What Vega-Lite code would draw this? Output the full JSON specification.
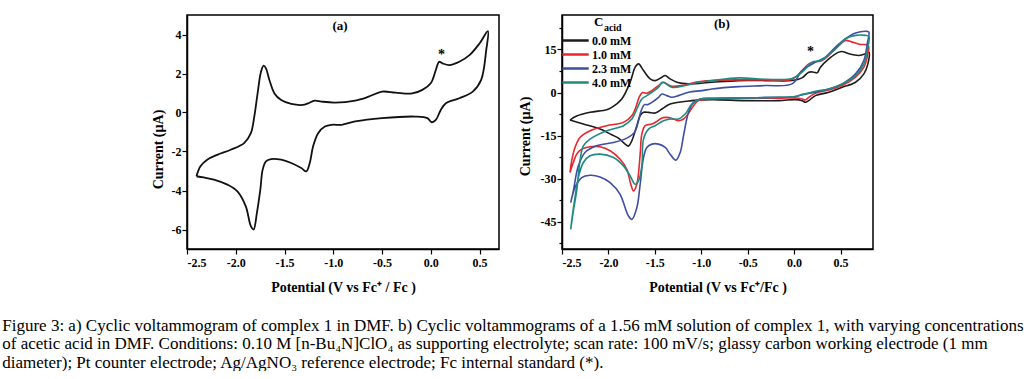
{
  "$schema": "https://vega.github.io/schema/vega-lite/v6.json",
  "background": "white",
  "padding": {"left": 2, "top": 14, "right": 0, "bottom": 0},
  "config": {
    "view": {"stroke": "#000", "strokeWidth": 1.5},
    "font": "Liberation Serif",
    "axis": {"labelFont": "Liberation Serif", "labelFontWeight": "bold", "labelFontSize": 12, "labelColor": "#000", "titleFont": "Liberation Serif", "titleFontWeight": "bold", "titleFontSize": 14, "titleColor": "#000", "grid": false, "domainColor": "#000", "domainWidth": 1.5, "tickColor": "#000", "tickWidth": 1.2, "labelOverlap": false}
  },
  "title": {
    "text": [
      "Figure 3: a) Cyclic voltammogram of complex 1 in DMF. b) Cyclic voltammograms of a 1.56 mM solution of complex 1, with varying concentrations",
      "of acetic acid in DMF. Conditions: 0.10 M [n-Bu₄N]ClO₄ as supporting electrolyte; scan rate: 100 mV/s; glassy carbon working electrode (1 mm",
      "diameter); Pt counter electrode; Ag/AgNO₃ reference electrode; Fc internal standard (*)."
    ],
    "orient": "bottom", "anchor": "start", "frame": "bounds", "font": "Liberation Serif", "fontSize": 17, "fontWeight": "normal", "color": "#000", "lineHeight": 18.5, "offset": 23, "dx": -148
  },
  "datasets": {
    "a": [
      {"k":0,"V":-2.403,"I":-3.27},{"k":1,"V":-2.362,"I":-2.76},{"k":2,"V":-2.293,"I":-2.42},{"k":3,"V":-2.19,"I":-2.17},{"k":4,"V":-2.052,"I":-1.91},{"k":5,"V":-1.914,"I":-1.57},{"k":6,"V":-1.845,"I":-1.06},{"k":7,"V":-1.81,"I":-0.21},{"k":8,"V":-1.776,"I":0.98},{"k":9,"V":-1.741,"I":2.09},{"k":10,"V":-1.714,"I":2.4},{"k":11,"V":-1.69,"I":2.26},{"k":12,"V":-1.655,"I":1.67},{"k":13,"V":-1.603,"I":0.98},{"k":14,"V":-1.534,"I":0.64},{"k":15,"V":-1.431,"I":0.44},{"k":16,"V":-1.31,"I":0.39},{"k":17,"V":-1.259,"I":0.47},{"k":18,"V":-1.19,"I":0.61},{"k":19,"V":-1.121,"I":0.56},{"k":20,"V":-0.983,"I":0.51},{"k":21,"V":-0.776,"I":0.61},{"k":22,"V":-0.638,"I":0.81},{"k":23,"V":-0.5,"I":1.07},{"k":24,"V":-0.362,"I":1.02},{"k":25,"V":-0.19,"I":0.98},{"k":26,"V":-0.086,"I":1.16},{"k":27,"V":0.0,"I":1.5},{"k":28,"V":0.052,"I":2.18},{"k":29,"V":0.086,"I":2.6},{"k":30,"V":0.121,"I":2.52},{"k":31,"V":0.19,"I":2.43},{"k":32,"V":0.293,"I":2.6},{"k":33,"V":0.397,"I":2.94},{"k":34,"V":0.5,"I":3.54},{"k":35,"V":0.586,"I":4.17},
      {"k":36,"V":0.569,"I":3.2},{"k":37,"V":0.517,"I":1.67},{"k":38,"V":0.431,"I":1.07},{"k":39,"V":0.293,"I":0.73},{"k":40,"V":0.155,"I":0.47},{"k":41,"V":0.103,"I":0.13},{"k":42,"V":0.052,"I":-0.38},{"k":43,"V":0.01,"I":-0.5},{"k":44,"V":-0.034,"I":-0.29},{"k":45,"V":-0.155,"I":-0.21},{"k":46,"V":-0.5,"I":-0.29},{"k":47,"V":-0.776,"I":-0.46},{"k":48,"V":-0.914,"I":-0.63},{"k":49,"V":-1.017,"I":-0.63},{"k":50,"V":-1.086,"I":-0.72},{"k":51,"V":-1.155,"I":-1.06},{"k":52,"V":-1.207,"I":-1.74},{"k":53,"V":-1.241,"I":-2.59},{"k":54,"V":-1.276,"I":-3.02},{"k":55,"V":-1.328,"I":-2.85},{"k":56,"V":-1.431,"I":-2.59},{"k":57,"V":-1.534,"I":-2.42},{"k":58,"V":-1.638,"I":-2.39},{"k":59,"V":-1.69,"I":-2.51},{"k":60,"V":-1.724,"I":-2.93},{"k":61,"V":-1.748,"I":-3.96},{"k":62,"V":-1.783,"I":-5.15},{"k":63,"V":-1.817,"I":-6.0},{"k":64,"V":-1.845,"I":-5.83},{"k":65,"V":-1.897,"I":-4.81},{"k":66,"V":-1.983,"I":-4.04},{"k":67,"V":-2.086,"I":-3.7},{"k":68,"V":-2.224,"I":-3.44},{"k":69,"V":-2.328,"I":-3.33},{"k":70,"V":-2.403,"I":-3.27}
    ],
    "b": [
      {"c":"0.0 mM","k":0,"V":-2.414,"I":-9.58},{"c":"0.0 mM","k":1,"V":-2.342,"I":-8.19},{"c":"0.0 mM","k":2,"V":-2.198,"I":-6.9},{"c":"0.0 mM","k":3,"V":-2.018,"I":-5.97},{"c":"0.0 mM","k":4,"V":-1.964,"I":-5.16},{"c":"0.0 mM","k":5,"V":-1.856,"I":-2.24},{"c":"0.0 mM","k":6,"V":-1.766,"I":3.58},{"c":"0.0 mM","k":7,"V":-1.712,"I":8.82},{"c":"0.0 mM","k":8,"V":-1.676,"I":9.99},{"c":"0.0 mM","k":9,"V":-1.622,"I":7.66},{"c":"0.0 mM","k":10,"V":-1.55,"I":4.75},{"c":"0.0 mM","k":11,"V":-1.496,"I":4.16},{"c":"0.0 mM","k":12,"V":-1.424,"I":5.33},{"c":"0.0 mM","k":13,"V":-1.388,"I":5.91},{"c":"0.0 mM","k":14,"V":-1.335,"I":4.75},{"c":"0.0 mM","k":15,"V":-1.263,"I":3.58},{"c":"0.0 mM","k":16,"V":-1.137,"I":3.0},{"c":"0.0 mM","k":17,"V":-0.885,"I":3.58},{"c":"0.0 mM","k":18,"V":-0.597,"I":4.16},{"c":"0.0 mM","k":19,"V":-0.309,"I":4.16},{"c":"0.0 mM","k":20,"V":-0.022,"I":4.16},{"c":"0.0 mM","k":21,"V":0.086,"I":5.1},{"c":"0.0 mM","k":22,"V":0.158,"I":7.08},{"c":"0.0 mM","k":23,"V":0.212,"I":7.08},{"c":"0.0 mM","k":24,"V":0.248,"I":6.84},{"c":"0.0 mM","k":25,"V":0.284,"I":8.82},{"c":"0.0 mM","k":26,"V":0.374,"I":11.74},{"c":"0.0 mM","k":27,"V":0.482,"I":14.07},{"c":"0.0 mM","k":28,"V":0.518,"I":14.3},{"c":"0.0 mM","k":29,"V":0.59,"I":13.49},{"c":"0.0 mM","k":30,"V":0.698,"I":12.9},{"c":"0.0 mM","k":31,"V":0.77,"I":13.49},{"c":"0.0 mM","k":32,"V":0.806,"I":14.07},
      {"c":"0.0 mM","k":33,"V":0.795,"I":9.99},{"c":"0.0 mM","k":34,"V":0.752,"I":6.49},{"c":"0.0 mM","k":35,"V":0.662,"I":3.58},{"c":"0.0 mM","k":36,"V":0.518,"I":1.83},{"c":"0.0 mM","k":37,"V":0.374,"I":0.09},{"c":"0.0 mM","k":38,"V":0.23,"I":-1.08},{"c":"0.0 mM","k":39,"V":0.158,"I":-2.83},{"c":"0.0 mM","k":40,"V":0.122,"I":-3.41},{"c":"0.0 mM","k":41,"V":0.086,"I":-2.83},{"c":"0.0 mM","k":42,"V":0.014,"I":-2.48},{"c":"0.0 mM","k":43,"V":-0.165,"I":-2.83},{"c":"0.0 mM","k":44,"V":-0.525,"I":-2.83},{"c":"0.0 mM","k":45,"V":-0.885,"I":-2.48},{"c":"0.0 mM","k":46,"V":-1.101,"I":-2.83},{"c":"0.0 mM","k":47,"V":-1.335,"I":-3.99},{"c":"0.0 mM","k":48,"V":-1.424,"I":-5.74},{"c":"0.0 mM","k":49,"V":-1.496,"I":-7.14},{"c":"0.0 mM","k":50,"V":-1.568,"I":-6.9},{"c":"0.0 mM","k":51,"V":-1.622,"I":-6.9},{"c":"0.0 mM","k":52,"V":-1.658,"I":-8.07},{"c":"0.0 mM","k":53,"V":-1.694,"I":-11.56},{"c":"0.0 mM","k":54,"V":-1.748,"I":-16.81},{"c":"0.0 mM","k":55,"V":-1.784,"I":-18.67},{"c":"0.0 mM","k":56,"V":-1.82,"I":-17.97},{"c":"0.0 mM","k":57,"V":-1.892,"I":-15.87},{"c":"0.0 mM","k":58,"V":-1.964,"I":-14.71},{"c":"0.0 mM","k":59,"V":-2.09,"I":-12.73},{"c":"0.0 mM","k":60,"V":-2.27,"I":-10.98},{"c":"0.0 mM","k":61,"V":-2.414,"I":-9.58},

      {"c":"1.0 mM","k":0,"V":-2.414,"I":-27.88},{"c":"1.0 mM","k":1,"V":-2.396,"I":-23.8},{"c":"1.0 mM","k":2,"V":-2.36,"I":-19.14},{"c":"1.0 mM","k":3,"V":-2.306,"I":-15.64},{"c":"1.0 mM","k":4,"V":-2.198,"I":-13.31},{"c":"1.0 mM","k":5,"V":-2.018,"I":-11.56},{"c":"1.0 mM","k":6,"V":-1.838,"I":-10.4},{"c":"1.0 mM","k":7,"V":-1.748,"I":-8.07},{"c":"1.0 mM","k":8,"V":-1.705,"I":-5.16},{"c":"1.0 mM","k":9,"V":-1.669,"I":-1.66},{"c":"1.0 mM","k":10,"V":-1.633,"I":-0.03},{"c":"1.0 mM","k":11,"V":-1.586,"I":-0.26},{"c":"1.0 mM","k":12,"V":-1.532,"I":0.67},{"c":"1.0 mM","k":13,"V":-1.46,"I":2.42},{"c":"1.0 mM","k":14,"V":-1.406,"I":3.58},{"c":"1.0 mM","k":15,"V":-1.371,"I":3.0},{"c":"1.0 mM","k":16,"V":-1.317,"I":2.18},{"c":"1.0 mM","k":17,"V":-1.209,"I":2.42},{"c":"1.0 mM","k":18,"V":-1.065,"I":3.58},{"c":"1.0 mM","k":19,"V":-0.885,"I":4.16},{"c":"1.0 mM","k":20,"V":-0.597,"I":4.4},{"c":"1.0 mM","k":21,"V":-0.309,"I":4.4},{"c":"1.0 mM","k":22,"V":-0.022,"I":4.63},{"c":"1.0 mM","k":23,"V":0.086,"I":7.66},{"c":"1.0 mM","k":24,"V":0.158,"I":9.99},{"c":"1.0 mM","k":25,"V":0.212,"I":10.57},{"c":"1.0 mM","k":26,"V":0.302,"I":11.16},{"c":"1.0 mM","k":27,"V":0.446,"I":15.23},{"c":"1.0 mM","k":28,"V":0.554,"I":18.15},{"c":"1.0 mM","k":29,"V":0.626,"I":17.56},{"c":"1.0 mM","k":30,"V":0.716,"I":16.75},{"c":"1.0 mM","k":31,"V":0.799,"I":16.4},
      {"c":"1.0 mM","k":32,"V":0.788,"I":12.32},{"c":"1.0 mM","k":33,"V":0.752,"I":8.82},{"c":"1.0 mM","k":34,"V":0.662,"I":5.33},{"c":"1.0 mM","k":35,"V":0.518,"I":2.42},{"c":"1.0 mM","k":36,"V":0.374,"I":0.9},{"c":"1.0 mM","k":37,"V":0.23,"I":-0.26},{"c":"1.0 mM","k":38,"V":0.158,"I":-1.66},{"c":"1.0 mM","k":39,"V":0.122,"I":-2.59},{"c":"1.0 mM","k":40,"V":0.086,"I":-2.24},{"c":"1.0 mM","k":41,"V":0.014,"I":-1.89},{"c":"1.0 mM","k":42,"V":-0.165,"I":-2.01},{"c":"1.0 mM","k":43,"V":-0.525,"I":-2.01},{"c":"1.0 mM","k":44,"V":-0.885,"I":-2.24},{"c":"1.0 mM","k":45,"V":-1.029,"I":-2.83},{"c":"1.0 mM","k":46,"V":-1.083,"I":-4.57},{"c":"1.0 mM","k":47,"V":-1.137,"I":-7.25},{"c":"1.0 mM","k":48,"V":-1.191,"I":-9.23},{"c":"1.0 mM","k":49,"V":-1.245,"I":-9.82},{"c":"1.0 mM","k":50,"V":-1.299,"I":-9.23},{"c":"1.0 mM","k":51,"V":-1.371,"I":-8.65},{"c":"1.0 mM","k":52,"V":-1.424,"I":-8.88},{"c":"1.0 mM","k":53,"V":-1.478,"I":-10.05},{"c":"1.0 mM","k":54,"V":-1.532,"I":-10.98},{"c":"1.0 mM","k":55,"V":-1.604,"I":-11.56},{"c":"1.0 mM","k":56,"V":-1.64,"I":-14.48},{"c":"1.0 mM","k":57,"V":-1.658,"I":-21.47},{"c":"1.0 mM","k":58,"V":-1.694,"I":-31.95},{"c":"1.0 mM","k":59,"V":-1.73,"I":-34.28},{"c":"1.0 mM","k":60,"V":-1.759,"I":-31.95},{"c":"1.0 mM","k":61,"V":-1.802,"I":-26.71},{"c":"1.0 mM","k":62,"V":-1.874,"I":-23.22},{"c":"1.0 mM","k":63,"V":-1.982,"I":-20.3},{"c":"1.0 mM","k":64,"V":-2.09,"I":-18.9},{"c":"1.0 mM","k":65,"V":-2.198,"I":-18.9},{"c":"1.0 mM","k":66,"V":-2.288,"I":-19.72},{"c":"1.0 mM","k":67,"V":-2.342,"I":-21.47},{"c":"1.0 mM","k":68,"V":-2.378,"I":-24.38},{"c":"1.0 mM","k":69,"V":-2.414,"I":-27.88},

      {"c":"2.3 mM","k":0,"V":-2.406,"I":-38.36},{"c":"2.3 mM","k":1,"V":-2.378,"I":-34.28},{"c":"2.3 mM","k":2,"V":-2.324,"I":-25.55},{"c":"2.3 mM","k":3,"V":-2.252,"I":-20.89},{"c":"2.3 mM","k":4,"V":-2.126,"I":-18.55},{"c":"2.3 mM","k":5,"V":-1.946,"I":-17.39},{"c":"2.3 mM","k":6,"V":-1.802,"I":-15.87},{"c":"2.3 mM","k":7,"V":-1.719,"I":-13.89},{"c":"2.3 mM","k":8,"V":-1.676,"I":-9.82},{"c":"2.3 mM","k":9,"V":-1.647,"I":-6.32},{"c":"2.3 mM","k":10,"V":-1.612,"I":-4.22},{"c":"2.3 mM","k":11,"V":-1.576,"I":-4.22},{"c":"2.3 mM","k":12,"V":-1.532,"I":-3.41},{"c":"2.3 mM","k":13,"V":-1.46,"I":-1.66},{"c":"2.3 mM","k":14,"V":-1.424,"I":-0.5},{"c":"2.3 mM","k":15,"V":-1.371,"I":-1.08},{"c":"2.3 mM","k":16,"V":-1.317,"I":-1.66},{"c":"2.3 mM","k":17,"V":-1.245,"I":-1.08},{"c":"2.3 mM","k":18,"V":-1.137,"I":0.09},{"c":"2.3 mM","k":19,"V":-0.993,"I":0.67},{"c":"2.3 mM","k":20,"V":-0.885,"I":1.25},{"c":"2.3 mM","k":21,"V":-0.597,"I":2.07},{"c":"2.3 mM","k":22,"V":-0.309,"I":2.42},{"c":"2.3 mM","k":23,"V":-0.022,"I":3.0},{"c":"2.3 mM","k":24,"V":0.086,"I":7.66},{"c":"2.3 mM","k":25,"V":0.23,"I":10.57},{"c":"2.3 mM","k":26,"V":0.338,"I":12.32},{"c":"2.3 mM","k":27,"V":0.446,"I":15.82},{"c":"2.3 mM","k":28,"V":0.554,"I":18.73},{"c":"2.3 mM","k":29,"V":0.662,"I":20.71},{"c":"2.3 mM","k":30,"V":0.788,"I":21.29},{"c":"2.3 mM","k":31,"V":0.806,"I":21.06},
      {"c":"2.3 mM","k":32,"V":0.788,"I":16.98},{"c":"2.3 mM","k":33,"V":0.752,"I":11.16},{"c":"2.3 mM","k":34,"V":0.662,"I":6.49},{"c":"2.3 mM","k":35,"V":0.518,"I":3.0},{"c":"2.3 mM","k":36,"V":0.374,"I":1.25},{"c":"2.3 mM","k":37,"V":0.23,"I":0.09},{"c":"2.3 mM","k":38,"V":0.086,"I":-0.73},{"c":"2.3 mM","k":39,"V":0.014,"I":-1.43},{"c":"2.3 mM","k":40,"V":-0.165,"I":-1.66},{"c":"2.3 mM","k":41,"V":-0.525,"I":-1.89},{"c":"2.3 mM","k":42,"V":-0.885,"I":-2.01},{"c":"2.3 mM","k":43,"V":-1.011,"I":-2.24},{"c":"2.3 mM","k":44,"V":-1.083,"I":-3.41},{"c":"2.3 mM","k":45,"V":-1.137,"I":-6.9},{"c":"2.3 mM","k":46,"V":-1.191,"I":-15.06},{"c":"2.3 mM","k":47,"V":-1.227,"I":-20.89},{"c":"2.3 mM","k":48,"V":-1.273,"I":-23.56},{"c":"2.3 mM","k":49,"V":-1.335,"I":-21.47},{"c":"2.3 mM","k":50,"V":-1.388,"I":-19.14},{"c":"2.3 mM","k":51,"V":-1.46,"I":-17.97},{"c":"2.3 mM","k":52,"V":-1.532,"I":-17.97},{"c":"2.3 mM","k":53,"V":-1.586,"I":-19.14},{"c":"2.3 mM","k":54,"V":-1.622,"I":-22.63},{"c":"2.3 mM","k":55,"V":-1.658,"I":-31.95},{"c":"2.3 mM","k":56,"V":-1.694,"I":-40.11},{"c":"2.3 mM","k":57,"V":-1.748,"I":-44.19},{"c":"2.3 mM","k":58,"V":-1.784,"I":-43.02},{"c":"2.3 mM","k":59,"V":-1.82,"I":-40.11},{"c":"2.3 mM","k":60,"V":-1.874,"I":-35.45},{"c":"2.3 mM","k":61,"V":-1.982,"I":-31.37},{"c":"2.3 mM","k":62,"V":-2.09,"I":-29.39},{"c":"2.3 mM","k":63,"V":-2.198,"I":-28.81},{"c":"2.3 mM","k":64,"V":-2.288,"I":-29.62},{"c":"2.3 mM","k":65,"V":-2.36,"I":-33.12},{"c":"2.3 mM","k":66,"V":-2.406,"I":-38.36},

      {"c":"4.0 mM","k":0,"V":-2.406,"I":-47.68},{"c":"4.0 mM","k":1,"V":-2.378,"I":-41.27},{"c":"4.0 mM","k":2,"V":-2.342,"I":-34.28},{"c":"4.0 mM","k":3,"V":-2.306,"I":-23.8},{"c":"4.0 mM","k":4,"V":-2.27,"I":-18.55},{"c":"4.0 mM","k":5,"V":-2.198,"I":-16.22},{"c":"4.0 mM","k":6,"V":-2.018,"I":-13.31},{"c":"4.0 mM","k":7,"V":-1.838,"I":-11.56},{"c":"4.0 mM","k":8,"V":-1.748,"I":-9.23},{"c":"4.0 mM","k":9,"V":-1.694,"I":-5.74},{"c":"4.0 mM","k":10,"V":-1.64,"I":-2.24},{"c":"4.0 mM","k":11,"V":-1.586,"I":-1.08},{"c":"4.0 mM","k":12,"V":-1.532,"I":0.09},{"c":"4.0 mM","k":13,"V":-1.46,"I":1.83},{"c":"4.0 mM","k":14,"V":-1.424,"I":3.58},{"c":"4.0 mM","k":15,"V":-1.388,"I":3.23},{"c":"4.0 mM","k":16,"V":-1.317,"I":1.83},{"c":"4.0 mM","k":17,"V":-1.173,"I":2.42},{"c":"4.0 mM","k":18,"V":-1.029,"I":3.58},{"c":"4.0 mM","k":19,"V":-0.885,"I":4.16},{"c":"4.0 mM","k":20,"V":-0.597,"I":5.1},{"c":"4.0 mM","k":21,"V":-0.309,"I":4.63},{"c":"4.0 mM","k":22,"V":-0.022,"I":4.86},{"c":"4.0 mM","k":23,"V":0.086,"I":7.08},{"c":"4.0 mM","k":24,"V":0.194,"I":10.57},{"c":"4.0 mM","k":25,"V":0.302,"I":11.39},{"c":"4.0 mM","k":26,"V":0.446,"I":15.23},{"c":"4.0 mM","k":27,"V":0.554,"I":18.73},{"c":"4.0 mM","k":28,"V":0.662,"I":19.89},{"c":"4.0 mM","k":29,"V":0.77,"I":19.89},{"c":"4.0 mM","k":30,"V":0.806,"I":19.54},
      {"c":"4.0 mM","k":31,"V":0.788,"I":14.65},{"c":"4.0 mM","k":32,"V":0.752,"I":9.99},{"c":"4.0 mM","k":33,"V":0.662,"I":5.91},{"c":"4.0 mM","k":34,"V":0.518,"I":3.0},{"c":"4.0 mM","k":35,"V":0.374,"I":1.25},{"c":"4.0 mM","k":36,"V":0.23,"I":0.44},{"c":"4.0 mM","k":37,"V":0.086,"I":-0.73},{"c":"4.0 mM","k":38,"V":0.014,"I":-1.43},{"c":"4.0 mM","k":39,"V":-0.165,"I":-1.66},{"c":"4.0 mM","k":40,"V":-0.525,"I":-1.89},{"c":"4.0 mM","k":41,"V":-0.885,"I":-2.01},{"c":"4.0 mM","k":42,"V":-1.011,"I":-2.24},{"c":"4.0 mM","k":43,"V":-1.101,"I":-3.99},{"c":"4.0 mM","k":44,"V":-1.173,"I":-7.49},{"c":"4.0 mM","k":45,"V":-1.245,"I":-9.23},{"c":"4.0 mM","k":46,"V":-1.335,"I":-9.23},{"c":"4.0 mM","k":47,"V":-1.406,"I":-9.82},{"c":"4.0 mM","k":48,"V":-1.496,"I":-11.56},{"c":"4.0 mM","k":49,"V":-1.568,"I":-12.73},{"c":"4.0 mM","k":50,"V":-1.622,"I":-16.22},{"c":"4.0 mM","k":51,"V":-1.64,"I":-25.55},{"c":"4.0 mM","k":52,"V":-1.676,"I":-30.79},{"c":"4.0 mM","k":53,"V":-1.712,"I":-31.95},{"c":"4.0 mM","k":54,"V":-1.766,"I":-29.04},{"c":"4.0 mM","k":55,"V":-1.838,"I":-25.55},{"c":"4.0 mM","k":56,"V":-1.946,"I":-22.63},{"c":"4.0 mM","k":57,"V":-2.09,"I":-21.47},{"c":"4.0 mM","k":58,"V":-2.198,"I":-22.05},{"c":"4.0 mM","k":59,"V":-2.27,"I":-24.38},{"c":"4.0 mM","k":60,"V":-2.324,"I":-29.62},{"c":"4.0 mM","k":61,"V":-2.36,"I":-36.61},{"c":"4.0 mM","k":62,"V":-2.396,"I":-44.77},{"c":"4.0 mM","k":63,"V":-2.406,"I":-47.68}
    ],
    "annA": [
      {"t":"(a)","V":-0.931,"I":4.43,"s":13},
      {"t":"*","V":0.11,"I":2.95,"s":14}
    ],
    "annB": [
      {"t":"(b)","V":-0.777,"I":23.97,"s":13},
      {"t":"*","V":0.176,"I":14.2,"s":14},
      {"t":"C","V":-2.104,"I":24.4,"s":13},
      {"t":"acid","V":-1.953,"I":22.6,"s":10}
    ]
  },
  "spacing": 17,
  "hconcat": [
    {
      "width": 312, "height": 234,
      "layer": [
        {
          "data": {"name": "a"},
          "mark": {"type": "line", "color": "#111", "strokeWidth": 1.8, "interpolate": "catmull-rom"},
          "encoding": {
            "x": {"field": "V", "type": "quantitative", "scale": {"domain": [-2.5, 0.7], "nice": false, "zero": false},
              "axis": {"values": [-2.5,-2.25,-2,-1.75,-1.5,-1.25,-1,-0.75,-0.5,-0.25,0,0.25,0.5],
                "labelExpr": "abs(datum.value*2-round(datum.value*2))>0.01 ? '' : replace(format(datum.value,'.1f'),'−','-')",
                "tickSize": {"condition": {"test": "abs(datum.value*2-round(datum.value*2))>0.01", "value": 3}, "value": 5},
                "labelOverlap": false, "labelPadding": 3, "title": "Potential (V vs Fc⁺ / Fc )", "titlePadding": 12}},
            "y": {"field": "I", "type": "quantitative", "scale": {"domain": [-7, 5], "nice": false, "zero": false},
              "axis": {"values": [-6,-5,-4,-3,-2,-1,0,1,2,3,4],
                "labelExpr": "abs(datum.value/2-round(datum.value/2))>0.01 ? '' : '' + datum.value",
                "tickSize": {"condition": {"test": "abs(datum.value/2-round(datum.value/2))>0.01", "value": 3}, "value": 5},
                "labelOverlap": false, "labelPadding": 1, "title": "Current (µA)", "titleX": -22, "titleY": 134}},
            "order": {"field": "k", "type": "quantitative"}
          }
        },
        {
          "data": {"name": "annA"},
          "mark": {"type": "text", "font": "Liberation Serif", "fontWeight": "bold", "color": "#000"},
          "encoding": {
            "x": {"field": "V", "type": "quantitative"},
            "y": {"field": "I", "type": "quantitative"},
            "text": {"field": "t"},
            "size": {"field": "s", "type": "quantitative", "scale": null}
          }
        }
      ]
    },
    {
      "width": 311, "height": 234,
      "resolve": {"axis": {"y": "independent"}},
      "layer": [
        {
          "data": {"name": "b"},
          "mark": {"type": "line", "strokeWidth": 1.6, "interpolate": "catmull-rom"},
          "encoding": {
            "x": {"field": "V", "type": "quantitative", "scale": {"domain": [-2.5, 0.85], "nice": false, "zero": false},
              "axis": {"values": [-2.5,-2.25,-2,-1.75,-1.5,-1.25,-1,-0.75,-0.5,-0.25,0,0.25,0.5,0.75],
                "labelExpr": "abs(datum.value*2-round(datum.value*2))>0.01 ? '' : replace(format(datum.value,'.1f'),'−','-')",
                "tickSize": {"condition": {"test": "abs(datum.value*2-round(datum.value*2))>0.01", "value": 3}, "value": 5},
                "labelOverlap": false, "labelPadding": 3, "title": "Potential (V vs Fc⁺/Fc )", "titlePadding": 12}},
            "y": {"field": "I", "type": "quantitative", "scale": {"domain": [-54.5, 27], "nice": false, "zero": false},
              "axis": {"orient": "left", "values": [-45,-30,-15,0,15], "format": "d",
                "labelExpr": "'' + datum.value",
                "tickSize": 5, "labelOverlap": false, "labelPadding": 1, "title": "Current (µA)", "titleX": -30, "titleY": 121}},
            "color": {"field": "c", "type": "nominal",
              "scale": {"domain": ["0.0 mM","1.0 mM","2.3 mM","4.0 mM"], "range": ["#1c1c1c","#e8262d","#3d4fa3","#1e8a82"]},
              "legend": {"orient": "none", "legendX": 381, "legendY": 18, "title": null, "symbolType": "M-2.2,0H2.2", "symbolSize": 144, "symbolStrokeWidth": 2.5,
                "labelFont": "Liberation Serif", "labelFontWeight": "bold", "labelFontSize": 12, "labelColor": "#000", "rowPadding": -1, "labelOffset": 9}},
            "order": {"field": "k", "type": "quantitative"}
          }
        },
        {
          "data": {"name": "annB"},
          "mark": {"type": "text", "font": "Liberation Serif", "fontWeight": "bold", "color": "#000"},
          "encoding": {
            "x": {"field": "V", "type": "quantitative"},
            "y": {"field": "I", "type": "quantitative",
              "axis": {"orient": "left", "values": [-52.5,-37.5,-22.5,-7.5,7.5,22.5], "labels": false, "tickSize": 3, "title": null, "domain": false}},
            "text": {"field": "t"},
            "size": {"field": "s", "type": "quantitative", "scale": null}
          }
        }
      ]
    }
  ]
}
